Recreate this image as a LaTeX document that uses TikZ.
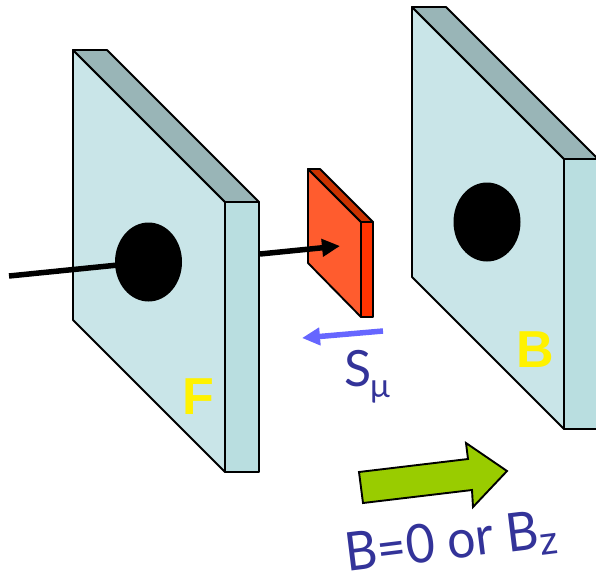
\documentclass[tikz,border=0pt]{standalone}
\usepackage{fontspec}
\setmainfont{Lato}
\newfontfamily\boldarial{Liberation Sans}[BoldFont={Liberation Sans Bold}]
\usetikzlibrary{arrows.meta}
\definecolor{plateface}{HTML}{C9E5E8}
\definecolor{plateside}{HTML}{B9DEE0}
\definecolor{platetop}{HTML}{99B5B7}
\definecolor{redface}{HTML}{FF5C2E}
\definecolor{redside}{HTML}{FF3300}
\definecolor{redtop}{HTML}{CC3300}
\definecolor{spinblue}{HTML}{6666FF}
\definecolor{labelblue}{HTML}{333399}
\definecolor{fieldgreen}{HTML}{99CC00}
\tikzset{
  edge/.style={draw=black,line width=1.9pt,line join=round},
  hole/.style={fill=black},
  platelabel/.style={text=yellow,font=\boldarial\bfseries\fontsize{52}{52}\selectfont,inner sep=0pt},
  bluelabel/.style={text=labelblue,inner sep=0pt},
  beam/.style={line width=5.5pt,draw=black}
}
\begin{document}
\begin{tikzpicture}[x=1pt,y=-1pt]
\useasboundingbox (0,0) rectangle (596,576);
\clip (0,0) rectangle (596,576);
% front plate
\filldraw[edge,fill=plateface] (73,50) -- (225,202) -- (225,472) -- (73,320) -- cycle;
\filldraw[edge,fill=platetop] (73,50) -- (107,50) -- (259,202) -- (225,202) -- cycle;
\filldraw[edge,fill=plateside] (225,202) -- (259,202) -- (259,472) -- (225,472) -- cycle;
\fill[hole] (148.5,262) ellipse [x radius=33.5,y radius=39.5];
% back plate
\filldraw[edge,fill=plateface] (412,7) -- (564,159) -- (564,429) -- (412,277) -- cycle;
\filldraw[edge,fill=platetop] (412,7) -- (446,7) -- (598,159) -- (564,159) -- cycle;
\filldraw[edge,fill=plateside] (564,159) -- (598,159) -- (598,429) -- (564,429) -- cycle;
\fill[hole] (487,222) ellipse [x radius=33.5,y radius=39.5];
% target
\filldraw[edge,fill=redface] (308,169) -- (361,222) -- (361,317) -- (308,263) -- cycle;
\filldraw[edge,fill=redtop] (308,169) -- (320,169) -- (373,222) -- (361,222) -- cycle;
\filldraw[edge,fill=redside] (361,222) -- (373,222) -- (373,317) -- (361,317) -- cycle;
% beam
\coordinate (beamstart) at (9,276);
\coordinate (beamhole) at (118,265);
\coordinate (beamexit) at (260,254);
\coordinate (beamend) at (340,246);
\draw[beam] (beamstart) -- (beamhole);
\draw[beam,-{Triangle[length=18pt,width=17pt]}] (beamexit) -- (beamend);
% spin arrow
\coordinate (spinstart) at (383,331);
\coordinate (spinend) at (302,338);
\draw[line width=5.5pt,draw=spinblue,-{Triangle[length=18pt,width=17pt]}] (spinstart) -- (spinend);
% field arrow
\filldraw[draw=black,line width=1.9pt,line join=miter,fill=fieldgreen]
  (359,472) -- (468,459) -- (466,443) -- (507,471) -- (473,507) -- (472,490) -- (363,503) -- cycle;
% labels
\node[platelabel] (flabel) at (198,397) {F};
\node[platelabel] (blabel) at (535,350) {B};
\node[bluelabel,anchor=base west,font=\fontsize{50}{50}\selectfont] (slabel) at (344,386) {S};
\node[bluelabel,anchor=base west,font=\fontsize{33}{33}\selectfont] (mulabel) at (370,397) {μ};
\node[bluelabel,anchor=base west,rotate=7,font=\fontsize{50}{50}\selectfont] (fieldlabel) at (347,572)
  {\scalebox{1}[1.07]{B=0 or B}\raisebox{-7pt}{\fontsize{40}{40}\selectfont z}};
\end{tikzpicture}
\end{document}
